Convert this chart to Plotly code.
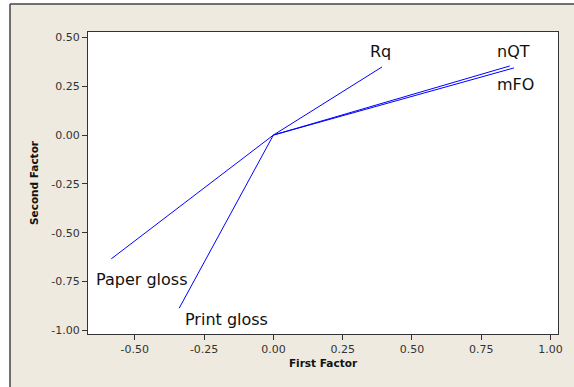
import plotly.graph_objects as go

# Data: factor loadings
variables = ["Rq", "nQT", "mFO", "Paper gloss", "Print gloss"]
first_factor = [0.392, 0.853, 0.868, -0.585, -0.340]
second_factor = [0.349, 0.354, 0.344, -0.634, -0.887]
x_ticks = [-0.50, -0.25, 0.00, 0.25, 0.50, 0.75, 1.00]
y_ticks = [-1.00, -0.75, -0.50, -0.25, 0.00, 0.25, 0.50]

# label pixel offsets (style only)
label_shift = {
    "Rq": (-2, 15),
    "nQT": (4, 14),
    "mFO": (2, -17),
    "Paper gloss": (30, -21),
    "Print gloss": (47, -11),
}

BLUE = "#0000FF"
BEIGE = "#EEEAE0"
DARK = "#333333"
FONT = "DejaVu Sans"

fig = go.Figure()
for name, fx, fy in zip(variables, first_factor, second_factor):
    fig.add_trace(go.Scatter(
        x=[0, fx], y=[0, fy], mode="lines",
        line=dict(color=BLUE, width=1),
        showlegend=False, hoverinfo="skip", name=name,
    ))
    dx, dy = label_shift[name]
    fig.add_annotation(
        x=fx, y=fy, text=name, showarrow=False,
        xshift=dx, yshift=dy,
        font=dict(family=FONT, size=16, color="#111111"),
        xanchor="center", yanchor="middle",
    )

# plot area: x 88..558 px, y 32..334 px
L, R, T, B = 88, 16, 32, 53
W, H = 574, 387
pw, ph = W - L - R, H - T - B

def px(x):
    return (x - L) / pw

def py(y):
    return (H - B - y) / ph

shapes = [
    # white strip on the left and top (outside the beige frame)
    dict(type="rect", xref="paper", yref="paper", x0=px(-5), x1=px(10), y0=py(H + 5), y1=py(-5),
         fillcolor="white", line=dict(width=0), layer="below"),
    dict(type="rect", xref="paper", yref="paper", x0=px(-5), x1=px(W + 5), y0=py(4), y1=py(-5),
         fillcolor="white", line=dict(width=0), layer="below"),
    # frame borders
    dict(type="line", xref="paper", yref="paper", x0=px(10), x1=px(10), y0=py(4), y1=py(H + 5),
         line=dict(color="#444444", width=1.5)),
    dict(type="line", xref="paper", yref="paper", x0=px(10), x1=px(W + 5), y0=py(4), y1=py(4),
         line=dict(color="#444444", width=1.5)),
]

axis_common = dict(
    showgrid=False, zeroline=False, showline=True, mirror=True,
    linecolor=DARK, linewidth=1, ticks="outside", ticklen=5, tickcolor=DARK,
    tickfont=dict(family=FONT, size=11, color=DARK),
)

fig.update_layout(
    width=W, height=H,
    margin=dict(l=L, r=R, t=T, b=B, pad=0),
    paper_bgcolor=BEIGE, plot_bgcolor="white",
    shapes=shapes,
    xaxis=dict(range=[-0.669, 1.027], tickvals=x_ticks,
               ticktext=[f"{v:.2f}" for v in x_ticks],
               title=dict(text="<b>First Factor</b>", standoff=4,
                          font=dict(family=FONT, size=10.5, color="#111111")),
               **axis_common),
    yaxis=dict(range=[-1.019, 0.528], tickvals=y_ticks,
               ticktext=[f"{v:.2f}" for v in y_ticks],
               title=dict(text="<b>Second Factor</b>", standoff=10,
                          font=dict(family=FONT, size=10.5, color="#111111")),
               **axis_common),
)

fig.write_html(
    "out.html",
    config={"displayModeBar": False},
    post_script="document.body.style.margin='0px';document.body.style.overflow='hidden';",
)
